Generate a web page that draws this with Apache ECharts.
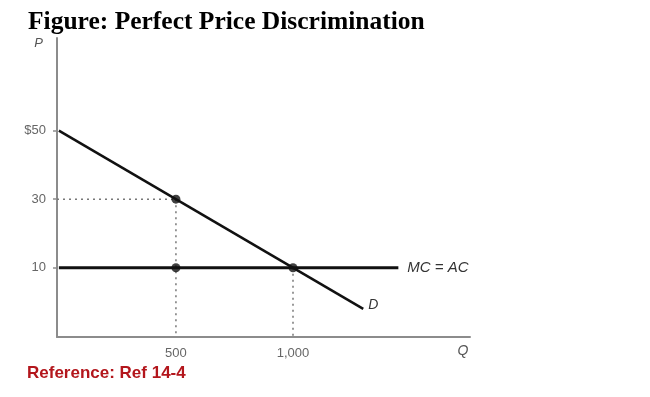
<!DOCTYPE html>
<html>
<head>
<meta charset="utf-8">
<script src="https://cdn.jsdelivr.net/npm/echarts@6/dist/echarts.min.js"></script>
<style>
	html, body { margin: 0; padding: 0; background: #fff; }
	#main { width: 650px; height: 397px; }
</style>
</head>
<body>
<div id="main"></div>
<script>
// 数据
var demandQ = [0, 1300];
var demandP = [50, -2];
var mcQ = [0, 1450];
var mcP = [10, 10];
var dotQ = [500, 500, 1000];
var dotP = [30, 10, 10];
var xTicks = [500, 1000];
var yTicks = [10, 30, 50];
var xMin = -8, xMax = 1756;
var yMin = -10.2, yMax = 77;

function pairs(xs, ys) {
	var out = [];
	for (var i = 0; i < xs.length; i++) out.push([xs[i], ys[i]]);
	return out;
}

// 虚线: 从点到坐标轴
var guides = [
	[[xMin, dotP[0]], [dotQ[0], dotP[0]]],
	[[dotQ[0], dotP[0]], [dotQ[0], yMin]],
	[[dotQ[2], dotP[2]], [dotQ[2], yMin]]
];
var guideSeries = guides.map(function(g) {
	return {
		type: 'line',
		data: g,
		symbol: 'none',
		silent: true,
		z: 1,
		lineStyle: { color: '#777', width: 1.5, type: [2, 4] }
	};
});

var chart = echarts.init(document.getElementById('main'));
chart.setOption({
	animation: false,
	title: [{
		text: 'Figure: Perfect Price Discrimination',
		left: 23,
		top: 4,
		textStyle: {
			fontFamily: '"Liberation Serif", "Times New Roman", serif',
			fontWeight: 'bold',
			fontSize: 25.5,
			color: '#000'
		}
	}, {
		text: 'Reference: Ref 14-4',
		left: 22,
		top: 360,
		textStyle: {
			fontFamily: '"Liberation Sans", Arial, sans-serif',
			fontWeight: 'bold',
			fontSize: 17,
			color: '#b3161c'
		}
	}],
	grid: {
		left: 57,
		right: 180,
		top: 38,
		bottom: 60
	},
	xAxis: {
		type: 'value',
		min: xMin,
		max: xMax,
		name: 'Q',
		nameLocation: 'end',
		nameGap: -7,
		nameTextStyle: {
			fontFamily: '"Liberation Sans", Arial, sans-serif',
			fontStyle: 'italic',
			fontSize: 14,
			color: '#555',
			align: 'center',
			verticalAlign: 'top',
			padding: [7, 0, 0, 0]
		},
		axisLine: { onZero: false, lineStyle: { color: '#8c8c8c', width: 2 } },
		axisTick: { show: false },
		splitLine: { show: false },
		axisLabel: {
			customValues: xTicks,
			margin: 10,
			fontFamily: '"Liberation Sans", Arial, sans-serif',
			fontSize: 13,
			color: '#666',
			formatter: function(v) { return v.toLocaleString('en-US'); }
		}
	},
	yAxis: {
		type: 'value',
		min: yMin,
		max: yMax,
		name: 'P',
		nameLocation: 'end',
		nameGap: -12,
		nameTextStyle: {
			fontFamily: '"Liberation Sans", Arial, sans-serif',
			fontStyle: 'italic',
			fontSize: 13,
			color: '#555',
			align: 'right',
			padding: [0, 14, 0, 0]
		},
		axisLine: { show: true, onZero: false, lineStyle: { color: '#8c8c8c', width: 2 } },
		axisTick: { show: true, customValues: yTicks, length: 4, lineStyle: { color: '#8c8c8c', width: 1.5 } },
		splitLine: { show: false },
		axisLabel: {
			customValues: yTicks,
			margin: 11,
			fontFamily: '"Liberation Sans", Arial, sans-serif',
			fontSize: 13,
			color: '#666',
			formatter: function(v) { return v === 50 ? '$50' : String(v); }
		}
	},
	series: guideSeries.concat([{
		name: 'MC = AC',
		type: 'line',
		data: pairs(mcQ, mcP),
		symbol: 'none',
		z: 3,
		lineStyle: { color: '#111', width: 3 },
		endLabel: {
			show: true,
			formatter: 'MC = AC',
			distance: 9,
			fontFamily: '"Liberation Sans", Arial, sans-serif',
			fontStyle: 'italic',
			fontSize: 15,
			color: '#333'
		}
	}, {
		name: 'D',
		type: 'line',
		data: pairs(demandQ, demandP),
		symbol: 'none',
		z: 3,
		lineStyle: { color: '#111', width: 2.5 },
		endLabel: {
			show: true,
			formatter: 'D',
			distance: 5,
			offset: [0, -4],
			fontFamily: '"Liberation Sans", Arial, sans-serif',
			fontStyle: 'italic',
			fontSize: 14,
			color: '#333'
		}
	}, {
		type: 'scatter',
		data: pairs(dotQ, dotP),
		symbolSize: 9,
		z: 4,
		itemStyle: { color: '#111' }
	}])
});
window.onresize = function() {
	chart.resize();
};
</script>
</body>
</html>
